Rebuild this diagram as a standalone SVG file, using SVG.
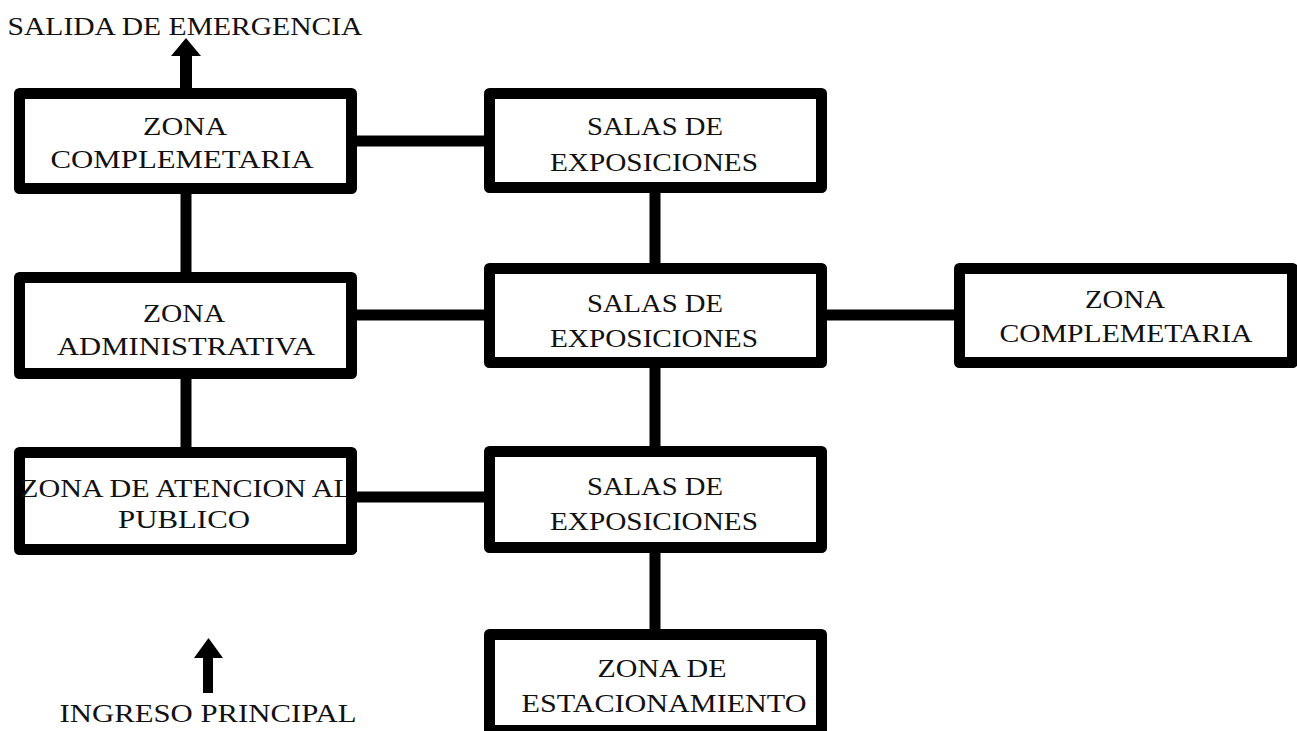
<svg xmlns="http://www.w3.org/2000/svg" width="1297" height="731" viewBox="0 0 1297 731">
<style>
.box{fill:#fff;stroke:#000;stroke-width:11;stroke-linejoin:round}
.con{stroke:#000;stroke-width:11;fill:none}
text{font-family:"Liberation Serif","Times New Roman",serif;font-size:26px;fill:#111;text-anchor:middle}
</style>
<rect width="1297" height="731" fill="#fff"/>
<g id="connectors">
<line class="con" x1="186" y1="188" x2="186" y2="278"/>
<line class="con" x1="186" y1="373" x2="186" y2="453"/>
<line class="con" x1="351" y1="141" x2="490" y2="141"/>
<line class="con" x1="351" y1="315" x2="490" y2="315"/>
<line class="con" x1="351" y1="497" x2="490" y2="497"/>
<line class="con" x1="821" y1="315" x2="960" y2="315"/>
<line class="con" x1="655" y1="187" x2="655" y2="269"/>
<line class="con" x1="655" y1="362" x2="655" y2="452"/>
<line class="con" x1="655" y1="547" x2="655" y2="635"/>
<polygon points="180,90 180,56 171,56 186,38 201,56 192,56 192,90" fill="#000"/>
<polygon points="203,693 203,658 194,658 208.5,638 223,658 213,658 213,693" fill="#000"/>
</g>
<g id="salida"><text x="185" y="35" textLength="355" lengthAdjust="spacingAndGlyphs">SALIDA DE EMERGENCIA</text></g>
<g id="ingreso"><text x="208" y="722" textLength="297" lengthAdjust="spacingAndGlyphs">INGRESO PRINCIPAL</text></g>
<g id="zona-complementaria-1">
<rect class="box" x="19.5" y="93.5" width="332" height="95"/>
<text x="185" y="135" textLength="84" lengthAdjust="spacingAndGlyphs">ZONA</text>
<text x="182" y="168" textLength="263" lengthAdjust="spacingAndGlyphs">COMPLEMETARIA</text>
</g>
<g id="salas-1">
<rect class="box" x="489.5" y="93.5" width="332" height="94"/>
<text x="655" y="135" textLength="136" lengthAdjust="spacingAndGlyphs">SALAS DE</text>
<text x="654" y="171" textLength="208" lengthAdjust="spacingAndGlyphs">EXPOSICIONES</text>
</g>
<g id="zona-administrativa">
<rect class="box" x="19.5" y="277.5" width="332" height="96"/>
<text x="184" y="322" textLength="82" lengthAdjust="spacingAndGlyphs">ZONA</text>
<text x="186" y="355" textLength="258" lengthAdjust="spacingAndGlyphs">ADMINISTRATIVA</text>
</g>
<g id="salas-2">
<rect class="box" x="489.5" y="268.5" width="332" height="94"/>
<text x="655" y="312" textLength="136" lengthAdjust="spacingAndGlyphs">SALAS DE</text>
<text x="654" y="347" textLength="208" lengthAdjust="spacingAndGlyphs">EXPOSICIONES</text>
</g>
<g id="zona-complementaria-2">
<rect class="box" x="959.5" y="268.5" width="333" height="94"/>
<text x="1125" y="308" textLength="80" lengthAdjust="spacingAndGlyphs">ZONA</text>
<text x="1126" y="342" textLength="253" lengthAdjust="spacingAndGlyphs">COMPLEMETARIA</text>
</g>
<g id="zona-atencion">
<rect class="box" x="19.5" y="452.5" width="332" height="97"/>
<text x="186" y="497" textLength="332" lengthAdjust="spacingAndGlyphs">ZONA DE ATENCION AL</text>
<rect x="346" y="452" width="11" height="100" fill="#000"/>
<text x="184" y="528" textLength="132" lengthAdjust="spacingAndGlyphs">PUBLICO</text>
</g>
<g id="salas-3">
<rect class="box" x="489.5" y="451.5" width="332" height="96"/>
<text x="655" y="495" textLength="136" lengthAdjust="spacingAndGlyphs">SALAS DE</text>
<text x="654" y="530" textLength="208" lengthAdjust="spacingAndGlyphs">EXPOSICIONES</text>
</g>
<g id="zona-estacionamiento">
<rect class="box" x="489.5" y="634.5" width="332" height="96"/>
<text x="662" y="677" textLength="129" lengthAdjust="spacingAndGlyphs">ZONA DE</text>
<text x="664" y="712" textLength="285" lengthAdjust="spacingAndGlyphs">ESTACIONAMIENTO</text>
</g>
</svg>
